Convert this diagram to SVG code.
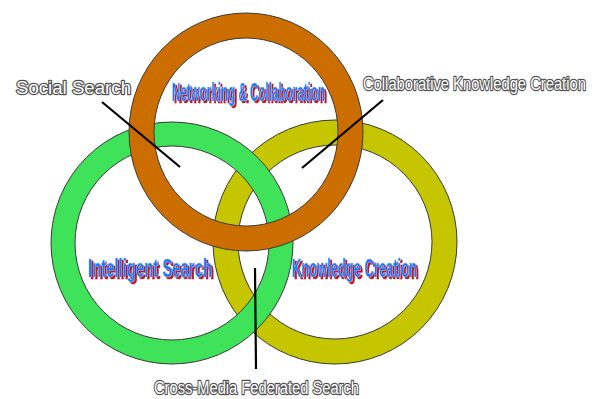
<svg xmlns="http://www.w3.org/2000/svg" width="595" height="399" viewBox="0 0 595 399">
<defs>
<filter id="redshadow" x="-5%" y="-20%" width="115%" height="150%">
<feOffset in="SourceAlpha" dx="3.2" dy="2" result="off"/>
<feFlood flood-color="#C0141E"/>
<feComposite in2="off" operator="in" result="sh"/>
<feMerge><feMergeNode in="sh"/><feMergeNode in="SourceGraphic"/></feMerge>
</filter>
</defs>
<style>
.band{fill:none}
.edge{fill:none;stroke:#3a3a3a;stroke-width:1}
.title{font-family:"Liberation Sans",Arial,sans-serif;font-weight:bold;font-size:26px;fill:#1F74EA;stroke:#7FB4FF;stroke-width:0.6;filter:url(#redshadow)}
.callout{font-family:"Liberation Sans",Arial,sans-serif;font-size:18px;fill:#ffffff;stroke:#505050;stroke-width:2.4;paint-order:stroke;stroke-linejoin:round}
.conn{stroke:#000;stroke-width:2.2;fill:none}
</style>
<rect width="595" height="399" fill="#ffffff"/>
<g id="ring-knowledge-creation">
<ellipse class="band" cx="335" cy="242" rx="109.5" ry="109.5" stroke="#C6C600" stroke-width="25"/>
<ellipse class="edge" cx="335" cy="242" rx="122" ry="122"/>
<ellipse class="edge" cx="335" cy="242" rx="97" ry="97"/>
</g>
<g id="ring-intelligent-search">
<ellipse class="band" cx="172" cy="243" rx="109" ry="109" stroke="#3FE35A" stroke-width="24"/>
<ellipse class="edge" cx="172" cy="243" rx="121" ry="121"/>
<ellipse class="edge" cx="172" cy="243" rx="97" ry="97"/>
</g>
<g id="ring-networking">
<ellipse class="band" cx="246" cy="132" rx="104.5" ry="106.5" stroke="#CC6D00" stroke-width="25"/>
<ellipse class="edge" cx="246" cy="132" rx="117" ry="119"/>
<ellipse class="edge" cx="246" cy="132" rx="92" ry="94"/>
</g>
<g id="connectors">
<line class="conn" x1="102" y1="102" x2="180" y2="167"/>
<line class="conn" x1="383" y1="100" x2="302" y2="168"/>
<line class="conn" x1="255" y1="268" x2="256" y2="369"/>
</g>
<g id="title-networking">
<text class="title" transform="translate(172,101) scale(0.5,1)" x="0" y="0" textLength="306" lengthAdjust="spacingAndGlyphs">Networking &amp; Collaboration</text>
</g>
<g id="title-intelligent-search">
<text class="title" transform="translate(88,277) scale(0.5,1)" x="0" y="0" textLength="248" lengthAdjust="spacingAndGlyphs">Intelligent Search</text>
</g>
<g id="title-knowledge-creation">
<text class="title" transform="translate(292,277) scale(0.5,1)" x="0" y="0" textLength="250" lengthAdjust="spacingAndGlyphs">Knowledge Creation</text>
</g>
<g id="label-social-search">
<text class="callout" x="16" y="94" textLength="115" lengthAdjust="spacingAndGlyphs">Social Search</text>
</g>
<g id="label-collaborative-knowledge-creation">
<text class="callout" transform="translate(363,90) scale(0.82,1)" x="0" y="0">Collaborative Knowledge Creation</text>
</g>
<g id="label-cross-media">
<text class="callout" x="154" y="394" textLength="205" lengthAdjust="spacingAndGlyphs">Cross-Media Federated Search</text>
</g>
</svg>
